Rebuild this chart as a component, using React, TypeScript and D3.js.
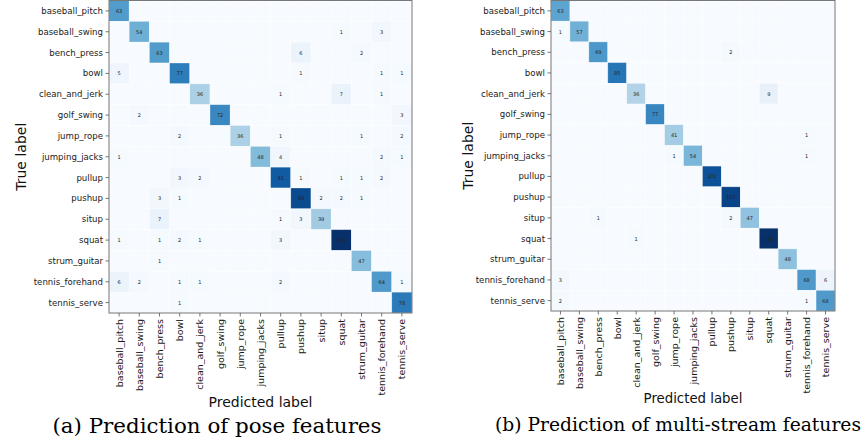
import * as d3 from "d3";

const classes = [
  "baseball_pitch", "baseball_swing", "bench_press", "bowl", "clean_and_jerk",
  "golf_swing", "jump_rope", "jumping_jacks", "pullup", "pushup",
  "situp", "squat", "strum_guitar", "tennis_forehand", "tennis_serve",
];

// rows = true label, columns = predicted label
const poseMatrix = [
  [63, 0, 0, 0, 0, 0, 0, 0, 0, 0, 0, 0, 0, 0, 0],
  [0, 54, 0, 0, 0, 0, 0, 0, 0, 0, 0, 1, 0, 3, 0],
  [0, 0, 63, 0, 0, 0, 0, 0, 0, 6, 0, 0, 2, 0, 0],
  [5, 0, 0, 77, 0, 0, 0, 0, 0, 1, 0, 0, 0, 1, 1],
  [0, 0, 0, 0, 36, 0, 0, 0, 1, 0, 0, 7, 0, 1, 0],
  [0, 2, 0, 0, 0, 72, 0, 0, 0, 0, 0, 0, 0, 0, 3],
  [0, 0, 0, 2, 0, 0, 36, 0, 1, 0, 0, 0, 1, 0, 2],
  [1, 0, 0, 0, 0, 0, 0, 48, 4, 0, 0, 0, 0, 2, 1],
  [0, 0, 0, 3, 2, 0, 0, 0, 91, 1, 0, 1, 1, 2, 0],
  [0, 0, 3, 1, 0, 0, 0, 0, 0, 98, 2, 2, 1, 0, 0],
  [0, 0, 7, 0, 0, 0, 0, 0, 1, 3, 39, 0, 0, 0, 0],
  [1, 0, 1, 2, 1, 0, 0, 0, 3, 0, 0, 109, 0, 0, 0],
  [0, 0, 1, 0, 0, 0, 0, 0, 0, 0, 0, 0, 47, 0, 0],
  [6, 2, 0, 1, 1, 0, 0, 0, 2, 0, 0, 0, 0, 64, 1],
  [0, 0, 0, 1, 0, 0, 0, 0, 0, 0, 0, 0, 0, 0, 78],
];

const multiMatrix = [
  [63, 0, 0, 0, 0, 0, 0, 0, 0, 0, 0, 0, 0, 0, 0],
  [1, 57, 0, 0, 0, 0, 0, 0, 0, 0, 0, 0, 0, 0, 0],
  [0, 0, 69, 0, 0, 0, 0, 0, 0, 2, 0, 0, 0, 0, 0],
  [0, 0, 0, 85, 0, 0, 0, 0, 0, 0, 0, 0, 0, 0, 0],
  [0, 0, 0, 0, 36, 0, 0, 0, 0, 0, 0, 9, 0, 0, 0],
  [0, 0, 0, 0, 0, 77, 0, 0, 0, 0, 0, 0, 0, 0, 0],
  [0, 0, 0, 0, 0, 0, 41, 0, 0, 0, 0, 0, 0, 1, 0],
  [0, 0, 0, 0, 0, 0, 1, 54, 0, 0, 0, 0, 0, 1, 0],
  [0, 0, 0, 0, 0, 0, 0, 0, 101, 0, 0, 0, 0, 0, 0],
  [0, 0, 0, 0, 0, 0, 0, 0, 0, 107, 0, 0, 0, 0, 0],
  [0, 0, 1, 0, 0, 0, 0, 0, 0, 2, 47, 0, 0, 0, 0],
  [0, 0, 0, 0, 1, 0, 0, 0, 0, 0, 0, 116, 0, 0, 0],
  [0, 0, 0, 0, 0, 0, 0, 0, 0, 0, 0, 0, 48, 0, 0],
  [3, 0, 0, 0, 0, 0, 0, 0, 0, 0, 0, 0, 0, 68, 6],
  [2, 0, 0, 0, 0, 0, 0, 0, 0, 0, 0, 0, 0, 1, 68],
];

const captions = ["(a) Prediction of pose features", "(b) Prediction of multi-stream features"];

const sans = "DejaVu Sans, sans-serif";

type PanelProps = {
  matrix: number[][];
  left: number;
  right: number;
  top: number;
  bottom: number;
  yTitleX: number;
  xTitleY: number;
  xTitleSize: number;
  caption: string;
  captionX: number;
  captionY: number;
  captionLen: number;
  captionSize: number;
};

function Panel(p: PanelProps) {
  const x = d3.scaleBand().domain(classes).range([p.left, p.right]);
  const y = d3.scaleBand().domain(classes).range([p.top, p.bottom]);
  const vmax = d3.max(p.matrix.flat()) as number;
  const color = d3.scaleSequential(d3.interpolateBlues).domain([0, vmax]);
  const cx = (p.left + p.right) / 2;
  const cy = (p.top + p.bottom) / 2;

  return (
    <g>
      {p.matrix.map((row, i) =>
        row.map((v, j) => (
          <rect
            key={`c${i}-${j}`}
            x={x(classes[j])}
            y={y(classes[i])}
            width={x.bandwidth()}
            height={y.bandwidth()}
            fill={color(v)}
            stroke="#ffffff"
            strokeOpacity={0.5}
            strokeWidth={0.6}
          />
        ))
      )}
      {p.matrix.map((row, i) =>
        row.map((v, j) =>
          v > 0 ? (
            <text
              key={`t${i}-${j}`}
              x={(x(classes[j]) as number) + x.bandwidth() / 2}
              y={(y(classes[i]) as number) + y.bandwidth() / 2}
              textAnchor="middle"
              dominantBaseline="central"
              fontFamily={sans}
              fontSize={5}
              fill="#222"
            >
              {v}
            </text>
          ) : null
        )
      )}
      <rect
        x={p.left}
        y={p.top}
        width={p.right - p.left}
        height={p.bottom - p.top}
        fill="none"
        stroke="#777"
        strokeWidth={1}
      />
      {classes.map((c) => {
        const yy = (y(c) as number) + y.bandwidth() / 2;
        return (
          <g key={`y${c}`}>
            <line x1={p.left - 3.5} x2={p.left} y1={yy} y2={yy} stroke="#555" strokeWidth={0.8} />
            <text
              x={p.left - 6}
              y={yy}
              textAnchor="end"
              dominantBaseline="central"
              fontFamily={sans}
              fontSize={8.6}
              fill="#1a1a1a"
            >
              {c}
            </text>
          </g>
        );
      })}
      {classes.map((c) => {
        const xx = (x(c) as number) + x.bandwidth() / 2;
        return (
          <g key={`x${c}`}>
            <line x1={xx} x2={xx} y1={p.bottom} y2={p.bottom + 3.5} stroke="#555" strokeWidth={0.8} />
            <text
              transform={`translate(${xx},${p.bottom + 6}) rotate(-90)`}
              textAnchor="end"
              dominantBaseline="central"
              fontFamily={sans}
              fontSize={9.5}
              fill="#1a1a1a"
            >
              {c}
            </text>
          </g>
        );
      })}
      <text
        transform={`translate(${p.yTitleX},${cy}) rotate(-90)`}
        textAnchor="middle"
        dominantBaseline="central"
        fontFamily={sans}
        fontSize={14}
        fill="#111"
      >
        True label
      </text>
      <text
        x={cx}
        y={p.xTitleY}
        textAnchor="middle"
        fontFamily={sans}
        fontSize={p.xTitleSize}
        fill="#111"
      >
        Predicted label
      </text>
      <text
        x={p.captionX}
        y={p.captionY}
        textAnchor="middle"
        fontFamily="DejaVu Serif, serif"
        fontSize={p.captionSize}
        textLength={p.captionLen}
        lengthAdjust="spacingAndGlyphs"
        fill="#000"
      >
        {p.caption}
      </text>
    </g>
  );
}

export default function App() {
  return (
    <svg
      width={868}
      height={444}
      style={{ position: "absolute", left: 0, top: 0, background: "#fff" }}
    >
      <Panel
        matrix={poseMatrix}
        left={109}
        right={412}
        top={0.5}
        bottom={313}
        yTitleX={21}
        xTitleY={407}
        xTitleSize={14}
        caption={captions[0]}
        captionX={217}
        captionY={433}
        captionLen={329}
        captionSize={20}
      />
      <Panel
        matrix={multiMatrix}
        left={551}
        right={835}
        top={0.5}
        bottom={311}
        yTitleX={468}
        xTitleY={403}
        xTitleSize={13.3}
        caption={captions[1]}
        captionX={678}
        captionY={431}
        captionLen={366}
        captionSize={19}
      />
    </svg>
  );
}
